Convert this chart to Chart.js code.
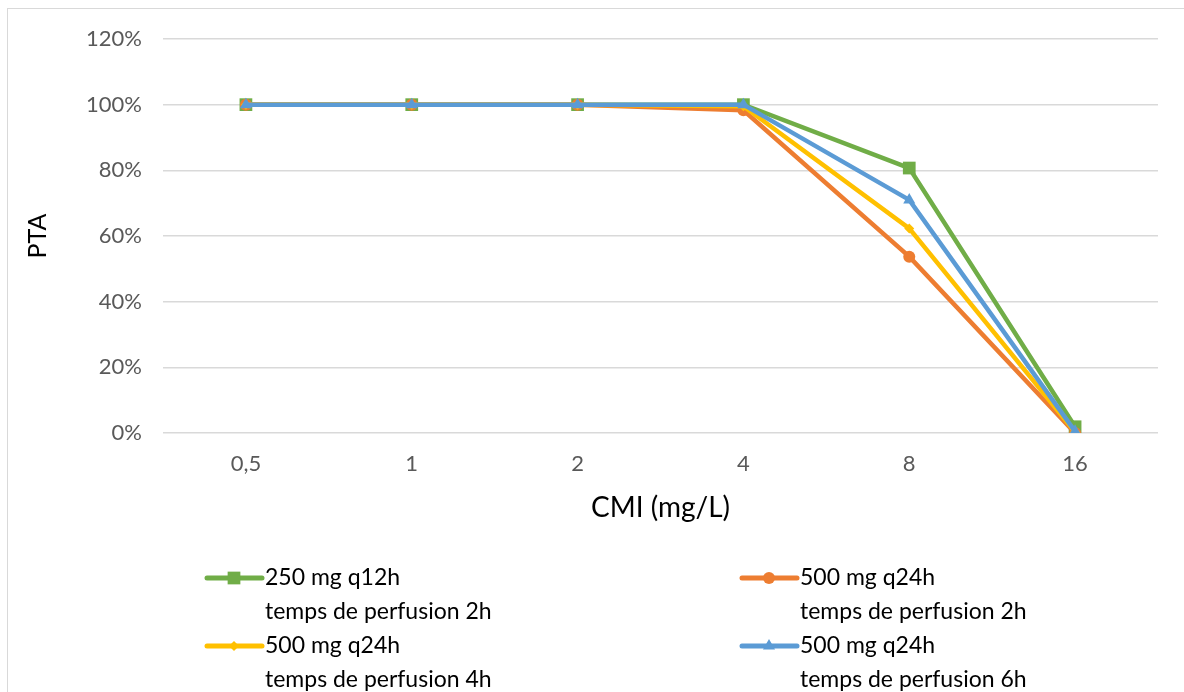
<!DOCTYPE html>
<html>
<head>
<meta charset="utf-8">
<script src="https://cdn.jsdelivr.net/npm/chart.js@4/dist/chart.umd.min.js"></script>
<style>
  html, body { margin: 0; padding: 0; background: #fff; }
  body { width: 1184px; height: 692px; position: relative; overflow: hidden; }
  #frame { position: absolute; left: 7px; top: 8px; width: 1200px; height: 720px; border: 1px solid #d9d9d9; box-sizing: border-box; }
  #wrap { position: absolute; left: 0; top: 0; width: 1184px; height: 692px; }
</style>
</head>
<body>
<div id="frame"></div>
<div id="wrap"><canvas id="chart"></canvas></div>
<script>
var categories = ['0,5', '1', '2', '4', '8', '16'];
var yTicks = [0, 20, 40, 60, 80, 100, 120];

var s250q12h2h = [100, 100, 100, 100, 80.7, 1.9];
var s500q24h2h = [100, 100, 100, 98.3, 53.7, 0];
var s500q24h4h = [100, 100, 100, 99.5, 62.3, 0.3];
var s500q24h6h = [100, 100, 100, 100, 71, 0.5];

var labels = [
    ['250 mg q12h', 'temps de perfusion 2h'],
    ['500 mg q24h', 'temps de perfusion 2h'],
    ['500 mg q24h', 'temps de perfusion 4h'],
    ['500 mg q24h', 'temps de perfusion 6h']
];
var colors = ['#70ad47', '#ed7d31', '#ffc000', '#5b9bd5'];
var styles = ['rect', 'circle', 'rectRot', 'triangle'];
var radii = [9, 6, 5, 7];
var series = [s250q12h2h, s500q24h2h, s500q24h4h, s500q24h6h];

var datasets = series.map(function (d, i) {
    return {
        label: labels[i].join(' '),
        data: d,
        borderColor: colors[i],
        backgroundColor: colors[i],
        borderWidth: 4.5,
        pointStyle: styles[i],
        pointRadius: radii[i],
        pointBorderWidth: 0,
        tension: 0,
        order: 3 - i
    };
});

// two-column legend with two-line labels, drawn under the chart
var legendPlugin = {
    id: 'legendBas',
    afterDraw: function (chart) {
        var ctx = chart.ctx;
        var pos = [[265, 578], [800, 578], [265, 646], [800, 646]];
        ctx.save();
        ctx.font = '23px Lato';
        ctx.textBaseline = 'middle';
        labels.forEach(function (l, i) {
            var x = pos[i][0], y = pos[i][1];
            ctx.strokeStyle = colors[i];
            ctx.lineWidth = 5;
            ctx.lineCap = 'round';
            ctx.beginPath();
            ctx.moveTo(x - 58, y);
            ctx.lineTo(x - 3, y);
            ctx.stroke();
            ctx.fillStyle = colors[i];
            Chart.helpers.drawPoint(ctx, { pointStyle: styles[i], radius: radii[i], borderWidth: 0, rotation: 0 }, x - 31, y);
            ctx.fillStyle = '#000';
            ctx.fillText(l[0], x, y);
            ctx.fillText(l[1], x, y + 34);
        });
        ctx.restore();
    }
};

new Chart(document.getElementById('chart').getContext('2d'), {
    type: 'line',
    data: { labels: categories, datasets: datasets },
    plugins: [legendPlugin],
    options: {
        responsive: true,
        maintainAspectRatio: false,
        animation: false,
        layout: { padding: { top: 39, right: 26, bottom: 159, left: 0 } },
        plugins: { legend: { display: false }, tooltip: { enabled: false } },
        scales: {
            x: {
                offset: true,
                grid: { display: false },
                border: { display: false },
                ticks: { color: '#595959', font: { family: 'Lato', size: 22 }, padding: 10 },
                title: { display: true, text: 'CMI (mg/L)', color: '#000', font: { family: 'Lato', size: 28 }, padding: { bottom: 8 } },
                afterFit: function (s) { s.height = 100; }
            },
            y: {
                min: 0, max: 120,
                afterBuildTicks: function (s) { s.ticks = yTicks.map(function (v) { return { value: v }; }); },
                grid: { color: '#d9d9d9', lineWidth: 1.5, drawTicks: false },
                border: { display: false },
                ticks: { color: '#595959', font: { family: 'Lato', size: 22 }, padding: 21, callback: function (v) { return v + '%'; } },
                title: { display: true, text: 'PTA', color: '#000', font: { family: 'Lato', size: 25 }, padding: { top: 23 } },
                afterFit: function (s) { s.width = 163; }
            }
        }
    }
});
</script>
</body>
</html>
